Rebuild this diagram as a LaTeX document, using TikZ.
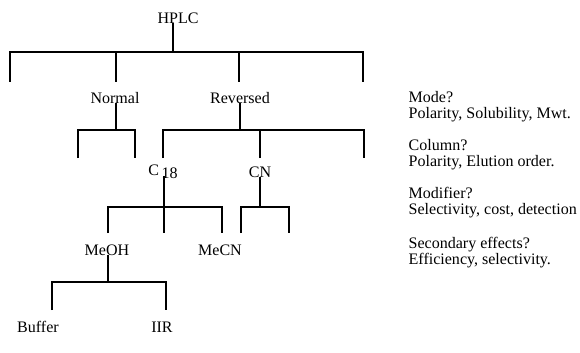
\documentclass[tikz,border=0pt]{standalone}
\usepackage{fontspec}
\setmainfont{Liberation Serif}
\begin{document}
\begin{tikzpicture}[line width=0.8pt,
    lbl/.style={font=\fontsize{11.4}{11.6}\selectfont, inner sep=1.5pt},
    note/.style={lbl, anchor=west, align=left}]
  \useasboundingbox (0.000,0.000) rectangle (14.500,8.800);
  % tree labels
  \node[lbl] (hplc) at (4.450,8.350) {HPLC};
  \node[lbl] (normal) at (2.875,6.350) {Normal};
  \node[lbl] (reversed) at (6.000,6.350) {Reversed};
  \node[lbl] (c18) at (4.075,4.500) {C\,\raisebox{-0.4ex}{18}};
  \node[lbl] (cn) at (6.500,4.500) {CN};
  \node[lbl] (meoh) at (2.675,2.550) {MeOH};
  \node[lbl] (mecn) at (5.500,2.550) {MeCN};
  \node[lbl] (buffer) at (0.950,0.625) {Buffer};
  \node[lbl] (iir) at (4.050,0.625) {IIR};
  % questions on the right
  \node[note] (qmode) at (10.150,6.125) {Mode?\\Polarity, Solubility, Mwt.};
  \node[note] (qcol) at (10.150,4.938) {Column?\\Polarity, Elution order.};
  \node[note] (qmod) at (10.150,3.738) {Modifier?\\Selectivity, cost, detection};
  \node[note] (qsec) at (10.150,2.488) {Secondary effects?\\Efficiency, selectivity.};
  % mode level
  \coordinate (m0) at (4.325,7.500);
  \coordinate (ma) at (0.250,6.750);
  \coordinate (mb) at (2.900,6.750);
  \coordinate (mc) at (5.975,6.750);
  \coordinate (md) at (9.075,6.750);
  \draw (hplc.base -| m0) -- (m0);
  \draw (ma) |- (m0) -| (md);
  \draw (mb) -- (mb |- m0);
  \draw (mc) -- (mc |- m0);
  % column level
  \coordinate (n0) at (2.900,5.550);
  \coordinate (na) at (1.950,4.850);
  \coordinate (nb) at (3.375,4.850);
  \draw (normal.base -| n0) -- (n0);
  \draw (na) |- (n0) -| (nb);
  \coordinate (r0) at (6.000,5.550);
  \coordinate (ra) at (4.075,4.850);
  \coordinate (rb) at (6.500,4.850);
  \coordinate (rc) at (9.100,4.850);
  \draw (reversed.base -| r0) -- (r0);
  \draw (ra) |- (r0) -| (rc);
  \draw (rb) -- (rb |- r0);
  % modifier level
  \coordinate (c0) at (4.100,3.625);
  \coordinate (ca) at (2.700,2.975);
  \coordinate (cb) at (4.100,2.975);
  \coordinate (cc) at (5.550,2.975);
  \draw (c18.base -| cb) -- (cb);
  \draw (ca) |- (c0) -| (cc);
  \coordinate (k0) at (6.500,3.625);
  \coordinate (ka) at (6.025,2.975);
  \coordinate (kb) at (7.225,2.975);
  \draw (cn.base -| k0) -- (k0);
  \draw (ka) |- (k0) -| (kb);
  % secondary level
  \coordinate (h0) at (2.700,1.750);
  \coordinate (ha) at (1.300,1.050);
  \coordinate (hb) at (4.150,1.050);
  \draw (meoh.base -| h0) -- (h0);
  \draw (ha) |- (h0) -| (hb);
\end{tikzpicture}
\end{document}
